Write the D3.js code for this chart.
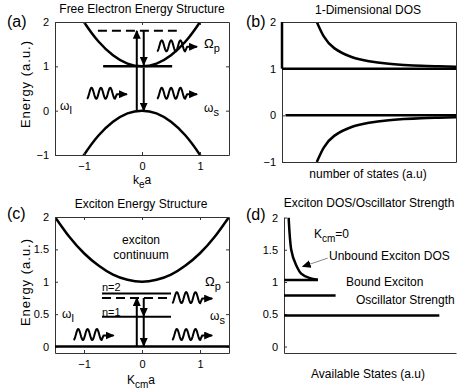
<!DOCTYPE html>
<html lang="en">
<head>
<meta charset="UTF-8">
<title>Energy structure</title>
<script src="https://cdn.jsdelivr.net/npm/d3@7"></script>
<style>
  body { margin: 0; padding: 0; background: #fff; }
  svg { display: block; font-family: "Liberation Sans", Arial, sans-serif; }
  .axis path, .axis line { stroke: #333; }
  .axis text { font-size: 11px; fill: #000; }
  .title { font-size: 12px; }
  .lbl { font-size: 12px; }
  .ylbl { font-size: 13px; letter-spacing: 1px; }
  .panel { font-size: 16px; }
  .thick { fill: none; stroke: #000; stroke-width: 2.5px; }
</style>
</head>
<body>
<div id="chart"></div>
<script>
var width = 462, height = 391;

// (a) free electron bands
var kA = [-1.5, -1.25, -1, -0.75, -0.5, -0.25, 0, 0.25, 0.5, 0.75, 1, 1.25, 1.5];
var condA = [3.25, 2.56, 2, 1.56, 1.25, 1.06, 1, 1.06, 1.25, 1.56, 2, 2.56, 3.25];
var valA = [-2.25, -1.56, -1, -0.56, -0.25, -0.06, 0, -0.06, -0.25, -0.56, -1, -1.56, -2.25];

// (b) 1D density of states
var nB = [1, 1.2, 1.5, 2, 2.5, 3, 3.5, 4, 4.5, 5];
var upperB = [2, 1.69, 1.44, 1.25, 1.16, 1.11, 1.08, 1.06, 1.05, 1.04];
var lowerB = [-1, -0.69, -0.44, -0.25, -0.16, -0.11, -0.08, -0.06, -0.05, -0.04];

// (c) exciton dispersion
var kC = [-1.5, -1.25, -1, -0.75, -0.5, -0.25, 0, 0.25, 0.5, 0.75, 1, 1.25, 1.5];
var contC = [2, 1.69, 1.44, 1.25, 1.11, 1.03, 1, 1.03, 1.11, 1.25, 1.44, 1.69, 2];
var levelsC = [0.82, 0.46];      // n=2, n=1
var virtualC = 0.75;

// (d) exciton DOS / oscillator strength
var nD = [0.27, 0.42, 0.71, 1.0, 1.47, 1.97];
var dosD = [2, 1.5, 1.26, 1.13, 1.065, 1.035];
var oscE = [1.03, 0.79, 0.48];
var oscLen = [1.97, 3.0, 9.03];

var svg = d3.select('#chart').append('svg')
  .attr('width', width).attr('height', height);

var defs = svg.append('defs');
defs.append('marker')
  .attr('id', 'head')
  .attr('markerUnits', 'userSpaceOnUse')
  .attr('markerWidth', 9).attr('markerHeight', 8)
  .attr('refX', 8).attr('refY', 4)
  .attr('orient', 'auto')
  .append('path').attr('d', 'M0,0 L9,4 L0,8 Z').attr('fill', '#000');

function panel(id, box, xDom, yDom) {
  var g = svg.append('g');
  var x = d3.scaleLinear().domain(xDom).range([box.l, box.r]);
  var y = d3.scaleLinear().domain(yDom).range([box.b, box.t]);
  defs.append('clipPath').attr('id', 'clip' + id)
    .append('rect').attr('x', box.l).attr('y', box.t)
    .attr('width', box.r - box.l).attr('height', box.b - box.t);
  var plot = g.append('g').attr('clip-path', 'url(#clip' + id + ')');
  return { g: g, plot: plot, x: x, y: y, box: box };
}

function axes(p, xt, yt, boxOn, yFmt) {
  var b = p.box;
  var yAx = d3.axisLeft(p.y).tickValues(yt).tickSizeInner(-3).tickSizeOuter(0)
    .tickPadding(6).tickFormat(yFmt || d3.format('d'));
  p.g.append('g').attr('class', 'axis').attr('transform', 'translate(' + b.l + ',0)').call(yAx);
  var xAx = d3.axisBottom(p.x).tickValues(xt).tickSizeInner(-3).tickSizeOuter(0)
    .tickPadding(7).tickFormat(d3.format('d'));
  p.g.append('g').attr('class', 'axis').attr('transform', 'translate(0,' + b.b + ')').call(xAx);
  if (boxOn) {
    p.g.append('g').attr('class', 'axis').attr('transform', 'translate(' + b.r + ',0)')
      .call(d3.axisRight(p.y).tickValues(yt).tickSizeInner(-3).tickSizeOuter(0).tickFormat(''));
    p.g.append('g').attr('class', 'axis').attr('transform', 'translate(0,' + b.t + ')')
      .call(d3.axisTop(p.x).tickValues(xt).tickSizeInner(-3).tickSizeOuter(0).tickFormat(''));
  }
}

function curve(p, xs, ys) {
  var line = d3.line().x(function(d) { return p.x(d[0]); })
    .y(function(d) { return p.y(d[1]); }).curve(d3.curveNatural);
  return p.plot.append('path').datum(d3.zip(xs, ys)).attr('class', 'thick').attr('d', line);
}

function hline(p, x0, x1, e, w, dash) {
  return p.g.append('line')
    .attr('x1', p.x(x0)).attr('x2', p.x(x1))
    .attr('y1', p.y(e)).attr('y2', p.y(e))
    .attr('stroke', '#000').attr('stroke-width', w || 2.5)
    .attr('stroke-dasharray', dash || null);
}

function varrow(p, k, e0, e1) {
  p.g.append('line')
    .attr('x1', p.x(k)).attr('x2', p.x(k))
    .attr('y1', p.y(e0)).attr('y2', p.y(e1))
    .attr('stroke', '#000').attr('stroke-width', 2)
    .attr('marker-end', 'url(#head)');
}

// photon squiggle with arrow, left end at (k, e)
function photon(p, k, e) {
  var x0 = p.x(k), y0 = p.y(e);
  var pts = d3.range(0, 28.01, 0.5).map(function(t) {
    return [x0 + t, y0 - 1 + 5.5 * Math.cos(2 * Math.PI * 3 * t / 28)];
  });
  pts.push([x0 + 30, y0], [x0 + 40, y0]);
  p.g.append('path').datum(pts)
    .attr('d', d3.line().curve(d3.curveLinear))
    .attr('fill', 'none').attr('stroke', '#000').attr('stroke-width', 2)
    .attr('stroke-linejoin', 'round')
    .attr('marker-end', 'url(#head)');
}

function sub(p, x, y, main, s, size) {
  var t = p.g.append('text').attr('x', x).attr('y', y).attr('font-size', size || 12);
  t.append('tspan').text(main);
  t.append('tspan').attr('dy', 4).attr('font-size', 11).text(s);
  return t;
}

function ylabel(p, x, y, txt) {
  p.g.append('text').attr('class', 'ylbl')
    .attr('transform', 'translate(' + x + ',' + y + ') rotate(-90)')
    .attr('text-anchor', 'middle').text(txt);
}

function title(p, x, y, txt) {
  p.g.append('text').attr('class', 'title').attr('x', x).attr('y', y)
    .attr('text-anchor', 'middle').text(txt);
}

// ---------- (a)
var a = panel('a', { l: 55, r: 229, t: 22, b: 155 }, [-1.5, 1.5], [-1, 2]);
axes(a, [-1, 0, 1], [-1, 0, 1, 2], true);
curve(a, kA, condA);
curve(a, kA, valA);
hline(a, -0.67, 0.52, 1, 2.5);
hline(a, -0.76, 0.6, 1.8, 2, '9,5');
varrow(a, -0.09, 0, 1.8);
varrow(a, 0.03, 1.8, 1.03);
varrow(a, 0.03, 0.97, 0);
photon(a, -0.95, 0.37);
photon(a, 0.26, 0.37);
photon(a, 0.26, 1.44);
title(a, 142, 13, 'Free Electron Energy Structure');
a.g.append('text').attr('class', 'panel').attr('x', 7).attr('y', 27).text('(a)');
ylabel(a, 30, 84, 'Energy (a.u.)');
sub(a, 60, 110, '\u03c9', 'l');
sub(a, 204, 112, '\u03c9', 's');
sub(a, 204, 48, '\u03a9', 'p', 13);
var xl = a.g.append('text').attr('class', 'lbl').attr('x', 133).attr('y', 184);
xl.append('tspan').text('k');
xl.append('tspan').attr('dy', 4).attr('font-size', 10).text('e');
xl.append('tspan').attr('dy', -4).text('a');

// ---------- (b)
var b = panel('b', { l: 282, r: 456, t: 22, b: 162 }, [0, 5], [-1, 2]);
axes(b, [], [-1, 0, 1, 2], true);
curve(b, nB, upperB);
curve(b, nB, lowerB);
hline(b, 0, 5, 1, 2.5);
hline(b, 0.1, 5, 0, 2.5);
b.g.append('line').attr('x1', b.x(0)).attr('x2', b.x(0))
  .attr('y1', b.y(1)).attr('y2', b.y(2))
  .attr('stroke', '#000').attr('stroke-width', 2.5);
title(b, 368, 14, '1-Dimensional DOS');
b.g.append('text').attr('class', 'panel').attr('x', 246).attr('y', 27).text('(b)');
b.g.append('text').attr('class', 'lbl').attr('x', 368).attr('y', 178)
  .attr('text-anchor', 'middle').text('number of states (a.u)');

// ---------- (c)
var c = panel('c', { l: 55, r: 229, t: 217, b: 353 }, [-1.5, 1.5], [-0.1, 2]);
axes(c, [-1, 0, 1], [0, 0.5, 1, 1.5, 2], true, d3.format('~g'));
curve(c, kC, contC);
hline(c, -1.5, 1.5, 0, 2.5);
levelsC.forEach(function(e) { hline(c, -0.69, 0.5, e, 2); });
hline(c, -0.69, 0.5, virtualC, 2, '9,5');
varrow(c, -0.09, 0, virtualC);
varrow(c, 0.03, virtualC, levelsC[1] + 0.01);
varrow(c, 0.03, levelsC[1], 0.01);
photon(c, -1.18, 0.17);
photon(c, 0.52, 0.17);
photon(c, 0.52, 0.74);
title(c, 141, 208, 'Exciton Energy Structure');
c.g.append('text').attr('class', 'panel').attr('x', 7).attr('y', 219).text('(c)');
ylabel(c, 30, 282, 'Energy (a.u.)');
c.g.append('text').attr('class', 'lbl').attr('x', 141).attr('y', 244).attr('text-anchor', 'middle').text('exciton');
c.g.append('text').attr('class', 'lbl').attr('x', 141).attr('y', 259).attr('text-anchor', 'middle').text('continuum');
c.g.append('text').attr('font-size', 11).attr('x', 102).attr('y', 291).text('n=2');
c.g.append('text').attr('font-size', 11).attr('x', 102).attr('y', 316).text('n=1');
sub(c, 62, 318, '\u03c9', 'l');
sub(c, 210, 320, '\u03c9', 's');
sub(c, 205, 286, '\u03a9', 'p', 13);
var xc = c.g.append('text').attr('class', 'lbl').attr('x', 127).attr('y', 384);
xc.append('tspan').text('K');
xc.append('tspan').attr('dy', 4).attr('font-size', 10).text('cm');
xc.append('tspan').attr('dy', -4).text('a');

// ---------- (d)
var d = panel('d', { l: 284, r: 456, t: 217.5, b: 353 }, [0, 10], [-0.1, 2]);
axes(d, [], [0, 0.5, 1, 1.5, 2], false, d3.format('~g'));
curve(d, nD, dosD);
oscE.forEach(function(e, i) { hline(d, 0, oscLen[i], e, 2.5); });
title(d, 369, 207, 'Exciton DOS/Oscillator Strength');
d.g.append('text').attr('class', 'panel').attr('x', 246).attr('y', 220).text('(d)');
var kt = d.g.append('text').attr('font-size', 12).attr('x', 314).attr('y', 238);
kt.append('tspan').text('K');
kt.append('tspan').attr('dy', 4).attr('font-size', 10).text('cm');
kt.append('tspan').attr('dy', -4).text('=0');
d.g.append('text').attr('class', 'lbl').attr('x', 329).attr('y', 260).text('Unbound Exciton DOS');
d.g.append('text').attr('class', 'lbl').attr('x', 346).attr('y', 286).text('Bound Exciton');
d.g.append('text').attr('class', 'lbl').attr('x', 356).attr('y', 304).text('Oscillator Strength');
d.g.append('line')
  .attr('x1', d.x(2.54)).attr('y1', d.y(1.37))
  .attr('x2', d.x(1.09)).attr('y2', d.y(1.24))
  .attr('stroke', '#888').attr('stroke-width', 1)
  .attr('marker-end', 'url(#head)');
d.g.append('text').attr('class', 'lbl').attr('x', 368).attr('y', 378)
  .attr('text-anchor', 'middle').text('Available States (a.u)');
</script>
</body>
</html>
